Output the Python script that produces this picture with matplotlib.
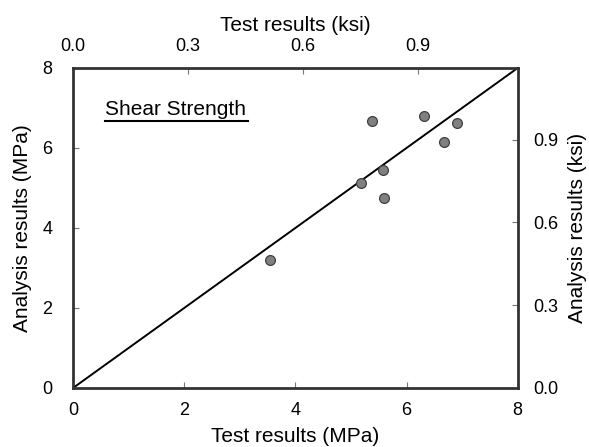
import numpy as np
import matplotlib.pyplot as plt

# test vs analysis shear strength, MPa
test_mpa = [3.54, 5.18, 5.37, 5.58, 5.60, 6.32, 6.68, 6.90]
analysis_mpa = [3.20, 5.13, 6.68, 5.45, 4.75, 6.81, 6.15, 6.62]
mpa_ticks = [0, 2, 4, 6, 8]
ksi_ticks = [0.0, 0.3, 0.6, 0.9]
MPA_PER_KSI = 6.89476

plt.rcParams['font.family'] = ['Liberation Sans', 'DejaVu Sans']

fig = plt.figure(figsize=(5.89, 4.47), dpi=100)
ax = fig.add_axes([0.124, 0.132, 0.755, 0.716])

ax.plot([0, 8], [0, 8], color='black', lw=1.4, zorder=2)
ax.scatter(test_mpa, analysis_mpa, s=50, color='#808080', edgecolor='#404040', lw=0.9, zorder=3)

tick_kw = dict(direction='in', length=4.5, width=0.8, labelsize=13, colors='#777777', labelcolor='black')

ax.set_xlim(0, 8)
ax.set_ylim(0, 8)
ax.set_xticks(mpa_ticks)
ax.set_yticks(mpa_ticks)
ax.tick_params(axis='x', pad=10, **tick_kw)
ax.tick_params(axis='y', pad=15, **tick_kw)
ax.set_xlabel('Test results (MPa)', fontsize=15, labelpad=6)
ax.set_ylabel('Analysis results (MPa)', fontsize=15, labelpad=7)
for s in ax.spines.values():
    s.set_linewidth(2)
    s.set_color('#333333')

to_ksi = lambda v: v / MPA_PER_KSI
to_mpa = lambda v: v * MPA_PER_KSI
top = ax.secondary_xaxis('top', functions=(to_ksi, to_mpa))
top.set_xticks(ksi_ticks)
top.set_xticklabels(['%.1f' % k for k in ksi_ticks])
top.tick_params(pad=9, **tick_kw)
top.set_xlabel('Test results (ksi)', fontsize=15, labelpad=5)
top.spines['top'].set_visible(False)

right = ax.secondary_yaxis('right', functions=(to_ksi, to_mpa))
right.set_yticks(ksi_ticks)
right.set_yticklabels(['%.1f' % k for k in ksi_ticks])
right.tick_params(pad=11, **tick_kw)
right.set_ylabel('Analysis results (ksi)', fontsize=15, labelpad=7)
right.spines['right'].set_visible(False)

ax.text(0.072, 0.870, 'Shear Strength', transform=ax.transAxes, fontsize=15, va='center')
ax.plot([0.072, 0.393], [0.834, 0.834], transform=ax.transAxes, color='black', lw=1.5)

fig.savefig('out.png', dpi=100)
